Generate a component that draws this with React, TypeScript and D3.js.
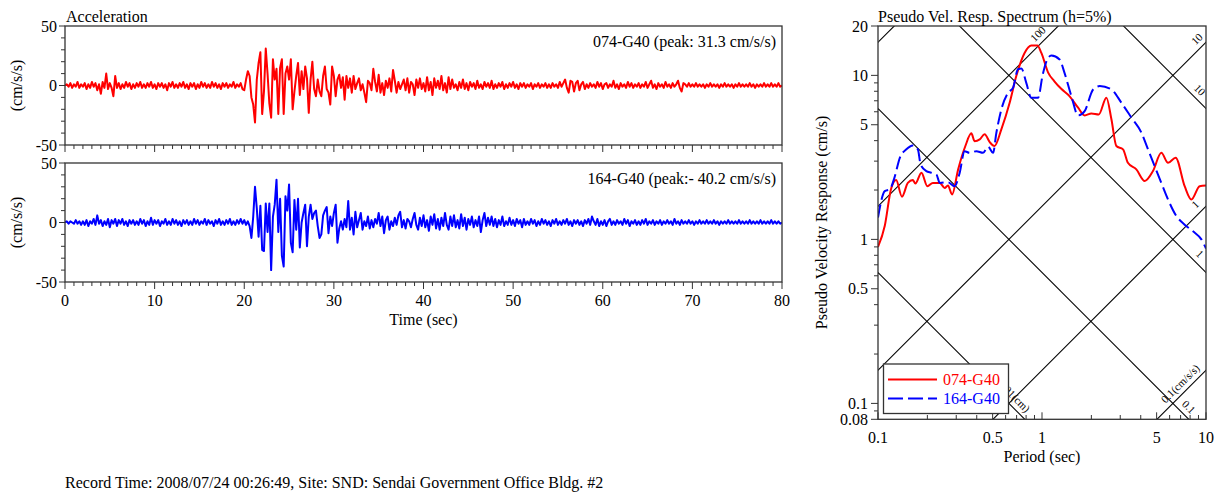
import React from 'react';
import * as d3 from 'd3';

const DT = 0.2;
const ACC_074 = [
  0,1,-1,2,-2,1,-1,3,-2,1,
  -1,2,-3,1,-2,3,-1,2,-4,1,
  -7,3,-2,10,-3,2,-2,-9,8,-2,
  2,-3,1,-2,3,-1,2,-3,1,-2,
  2,-1,3,-2,1,-2,2,-1,3,-2,
  1,-3,2,-1,2,-2,1,-4,2,-1,
  3,-2,1,-2,2,-1,3,-2,1,-3,
  2,-1,2,-3,1,-2,3,-1,2,-2,
  1,-2,3,-1,2,-2,1,-3,2,-1,
  2,-2,1,-1,3,-2,1,-1,2,-3,
  -4,5,12,8,-10,-16,-31,5,19,28,
  -24,-5,31,10,-15,-27,22,5,14,-24,
  15,22,-24,10,16,5,22,-20,-5,8,
  19,-8,12,-3,16,6,-23,5,20,-3,
  -9,5,-5,-9,8,16,-3,-6,-16,16,
  8,-9,5,9,-2,7,-12,8,-2,6,
  -6,8,-3,2,6,-4,1,-6,-14,4,
  2,-4,14,3,-5,9,-6,2,-8,4,
  -2,6,-5,13,4,-6,3,-3,1,5,
  -4,6,-6,3,1,-8,5,-2,6,-3,
  2,-5,7,-4,3,-8,6,-2,4,-3,
  8,-4,2,-6,7,-3,5,-2,1,-4,
  3,-2,5,-3,2,-4,3,-1,2,-3,
  4,-2,1,-3,3,-1,2,-2,4,-3,
  1,-2,2,-1,3,-3,1,-2,2,-1,
  3,-2,1,-3,2,-1,2,-2,1,-1,
  2,-3,1,-1,2,-2,1,-1,2,-2,
  1,-2,2,-1,1,-2,3,-1,2,5,
  -2,-6,4,3,-5,2,4,-4,1,3,
  -3,1,-2,2,-1,1,-2,3,-1,2,
  -3,1,2,-2,1,-1,4,-2,1,-3,
  2,-1,1,-2,3,-1,2,-2,1,-1,
  2,-2,1,-1,3,-2,1,4,-2,1,
  -3,2,-1,1,-2,3,-1,1,-2,2,
  -1,1,4,-2,-5,2,1,-1,2,-1,
  1,-1,2,-1,1,-1,1,-2,1,-1,
  2,-1,1,-1,1,-2,1,-1,2,-1,
  1,-1,1,-2,1,-1,2,-1,1,-1,
  1,-1,2,-1,1,-2,1,-1,1,-1,
  2,-1,1,-1,2,-1,1,-1,2,-1,
  0
];
const ACC_164 = [
  0,1,-1,1,0,-1,2,-1,1,-2,
  1,-2,2,-3,1,-1,3,-2,6,-1,
  2,-3,1,-2,3,-4,2,-1,3,-3,
  2,-1,3,-2,1,-3,2,-1,2,-2,
  1,-2,3,-1,2,-3,1,-2,4,-2,
  2,-1,2,-3,1,-1,3,-2,1,-2,
  3,-1,2,-2,1,-3,2,-1,2,-2,
  1,-2,3,-1,2,-2,1,-1,3,-2,
  2,-1,1,-3,2,-1,3,-2,1,-2,
  2,-1,3,-2,1,-2,2,-1,3,-1,
  2,-2,1,-3,-13,5,30,12,-12,14,
  -23,-24,16,-8,16,-40,5,15,36,-8,
  20,-28,-37,22,10,32,-17,-25,19,-6,
  20,-21,0,8,15,-20,5,15,3,8,
  10,-3,-13,-10,6,10,13,-9,5,-3,
  8,15,-17,-5,1,-6,3,-4,18,-6,
  4,-10,9,-4,2,8,-6,1,-3,5,
  -5,2,-4,3,-1,8,-3,5,-9,2,
  5,-6,1,-3,4,-2,6,9,-4,2,
  -5,3,1,-4,3,8,-2,-6,4,-3,
  6,-4,2,-7,5,-2,7,-5,3,-6,
  4,-3,8,-2,-6,5,-3,6,-4,2,
  -5,7,-3,4,-6,3,-2,5,-4,2,
  -3,5,-8,2,8,-3,4,-2,5,-3,
  3,-4,2,-2,5,-3,1,-2,4,-2,
  2,-3,3,-1,2,-4,3,-2,1,-2,
  3,-1,2,-3,1,-2,3,-1,2,-2,
  1,-3,2,-1,3,-2,1,-2,2,-1,
  3,-2,1,-3,2,-1,2,-2,1,-3,
  2,-1,3,-2,5,1,-2,3,-3,1,
  -2,2,-3,1,3,-2,1,-2,2,-1,
  1,-2,3,-1,2,-3,1,-1,2,-2,
  1,-2,2,-1,3,-2,1,-1,2,-2,
  1,-1,2,-2,1,-1,2,-1,1,-2,
  3,-1,1,-2,2,-1,1,-1,2,-1,
  1,-2,1,-1,2,-1,1,-1,2,-1,
  1,-1,2,-1,1,-2,1,-1,1,-1,
  2,-1,1,-1,1,-1,2,-1,1,-1,
  1,-1,2,-1,1,-1,1,-1,2,-1,
  1,-1,1,-1,2,-1,1,-1,1,-1,
  0
];

const PERIOD_074 = [0.1,0.11,0.12,0.129,0.14,0.152,0.163,0.169,0.184,0.2,0.216,0.238,0.255,0.267,0.283,0.308,0.341,0.371,0.388,0.417,0.447,0.48,0.514,0.565,0.635,0.697,0.783,0.861,0.937,0.991,1.09,1.19,1.31,1.47,1.66,1.82,2.0,2.22,2.47,2.65,2.84,3.12,3.34,3.76,4.23,4.75,5.34,5.87,6.53,7.41,8.14,9.15,10];
const SV_074 = [0.9,1.21,2.02,2.3,1.82,2.21,2.3,2.19,2.55,2.11,2.21,2.21,2.06,2.13,1.88,2.67,3.71,4.43,3.97,4.07,4.37,3.92,3.71,4.69,6.81,9.9,13.7,15.2,15.2,13.7,10.4,9.2,8.28,7.48,6.35,5.7,5.86,5.78,7.31,5.4,3.71,3.54,2.93,2.67,2.27,2.61,3.37,2.93,3.15,2.11,1.75,2.11,2.13];
const PERIOD_164 = [0.1,0.11,0.118,0.126,0.136,0.149,0.163,0.175,0.182,0.197,0.211,0.227,0.238,0.267,0.293,0.315,0.337,0.362,0.398,0.437,0.469,0.503,0.527,0.565,0.621,0.666,0.714,0.749,0.802,0.861,0.946,1.01,1.09,1.14,1.28,1.37,1.51,1.66,1.82,2.05,2.25,2.65,3.05,3.51,4.04,4.43,4.86,5.34,5.87,6.59,7.41,8.33,9.37,10];
const SV_164 = [1.36,1.97,2.02,2.38,3.15,3.54,3.74,3.54,2.86,2.61,2.55,2.49,2.21,2.23,2.11,2.55,3.45,3.37,3.45,3.37,3.67,3.37,4.47,6.2,7.83,8.4,10.9,11.0,9.0,7.3,7.3,10.1,12.8,13.2,12.5,10.4,7.48,5.7,6.06,8.2,8.6,8.2,6.81,5.52,4.47,3.54,2.8,2.21,1.75,1.39,1.23,1.12,1.0,0.88];

const TIME_TICKS = [0,10,20,30,40,50,60,70,80];
const ACC_TICKS = [-50,0,50];
const PERIOD_TICKS = [0.1,0.5,1,5,10];
const PERIOD_MINOR = [0.2,0.3,0.4,0.6,0.7,0.8,0.9,2,3,4,6,7,8,9];
const SV_TICKS = [0.08,0.1,0.5,1,5,10,20];
const SV_MINOR = [0.09,0.2,0.3,0.4,0.6,0.7,0.8,0.9,2,3,4,6,7,8,9];
const SA_LINES = [0.1,1,10,100,1000];
const SD_LINES = [0.01,0.1,1,10];
const SA_LABELS = [
  { value: 100, text: '100', period: 1.03 },
  { value: 10, text: '10', period: 9.6 },
  { value: 1, text: '1', period: 9.4 },
  { value: 0.1, text: '0.1(cm/s/s)', period: 7.6 },
];
const SD_LABELS = [
  { value: 10, text: '10', period: 8.4 },
  { value: 1, text: '1', period: 8.4 },
  { value: 0.1, text: '0.1', period: 7.2 },
  { value: 0.01, text: '0.01(cm)', period: 0.62 },
];

const FONT = '"Liberation Serif", "Times New Roman", serif';
const AX = '#333';

function AccPanel({ data, color, label, y0, y1, showX, clipId }) {
  const x = d3.scaleLinear().domain([0, 80]).range([65, 782]);
  const y = d3.scaleLinear().domain([-50, 50]).range([y1, y0]);
  const line = d3.line<number>().x((_, i) => x(i * DT)).y((d) => y(d));
  const minorX = d3.range(0, 81, 1);
  const minorY = d3.range(-50, 51, 10);
  return (
    <g>
      <clipPath id={clipId}><rect x={65} y={y0} width={717} height={y1 - y0} /></clipPath>
      <path d={line(data) || ''} fill="none" stroke={color} strokeWidth={2} strokeLinejoin="round" clipPath={`url(#${clipId})`} />
      <rect x={65} y={y0} width={717} height={y1 - y0} fill="none" stroke={AX} strokeWidth={1.3} />
      {minorX.map((t) => (
        <line key={'mx' + t} x1={x(t)} x2={x(t)} y1={y1} y2={y1 + (t % 10 === 0 ? 7 : 4)} stroke={AX} strokeWidth={1} />
      ))}
      {minorY.map((v) => (
        <line key={'my' + v} x1={65} x2={65 - (v % 50 === 0 ? 6 : 4)} y1={y(v)} y2={y(v)} stroke={AX} strokeWidth={1} />
      ))}
      {ACC_TICKS.map((v) => (
        <text key={'ty' + v} x={57} y={y(v) + 5.5} textAnchor="end" fontSize={16} fontFamily={FONT}>{v}</text>
      ))}
      {showX && TIME_TICKS.map((t) => (
        <text key={'tx' + t} x={x(t)} y={306} textAnchor="middle" fontSize={16} fontFamily={FONT}>{t}</text>
      ))}
      <text transform={`translate(22,${(y0 + y1) / 2}) rotate(-90)`} textAnchor="middle" fontSize={16} fontFamily={FONT}>(cm/s/s)</text>
      <text x={776} y={y0 + 21} textAnchor="end" fontSize={16} fontFamily={FONT}>{label}</text>
    </g>
  );
}

function Spectrum() {
  const xs = d3.scaleLog().domain([0.1, 10]).range([878, 1206]);
  const ys = d3.scaleLog().domain([0.08, 20]).range([419.3, 26]);
  const mk = (P: number[], S: number[]) =>
    d3.line<number>().x((p) => xs(p)).y((_, i) => ys(S[i])).curve(d3.curveMonotoneX)(P) || '';
  const saSv = (a: number, T: number) => (a * T) / (2 * Math.PI);
  const sdSv = (d: number, T: number) => (2 * Math.PI * d) / T;
  const Tr = [0.05, 20];
  const off = 5 / Math.SQRT2;
  return (
    <g>
      <clipPath id="specClip"><rect x={878} y={26} width={328} height={393.3} /></clipPath>
      <g clipPath="url(#specClip)">
        {SA_LINES.map((a) => (
          <line key={'sa' + a} x1={xs(Tr[0])} y1={ys(saSv(a, Tr[0]))} x2={xs(Tr[1])} y2={ys(saSv(a, Tr[1]))} stroke="#000" strokeWidth={1.1} />
        ))}
        {SD_LINES.map((d) => (
          <line key={'sd' + d} x1={xs(Tr[0])} y1={ys(sdSv(d, Tr[0]))} x2={xs(Tr[1])} y2={ys(sdSv(d, Tr[1]))} stroke="#000" strokeWidth={1.1} />
        ))}
        {SA_LABELS.map((l) => {
          const px = xs(l.period) - off, py = ys(saSv(l.value, l.period)) - off;
          return <text key={'sal' + l.text} transform={`translate(${px},${py}) rotate(-45)`} textAnchor="middle" fontSize={11} fontFamily={FONT}>{l.text}</text>;
        })}
        {SD_LABELS.map((l) => {
          const px = xs(l.period) + off, py = ys(sdSv(l.value, l.period)) - off;
          return <text key={'sdl' + l.text} transform={`translate(${px},${py}) rotate(45)`} textAnchor="middle" fontSize={11} fontFamily={FONT}>{l.text}</text>;
        })}
        <path d={mk(PERIOD_074, SV_074)} fill="none" stroke="#ff0000" strokeWidth={2} />
        <path d={mk(PERIOD_164, SV_164)} fill="none" stroke="#0000ff" strokeWidth={2} strokeDasharray="13,5" />
      </g>
      <rect x={878} y={26} width={328} height={393.3} fill="none" stroke={AX} strokeWidth={1.3} />
      {PERIOD_TICKS.map((p) => (
        <g key={'pt' + p}>
          <line x1={xs(p)} x2={xs(p)} y1={419.3} y2={412.3} stroke={AX} />
          <text x={xs(p)} y={443} textAnchor="middle" fontSize={16} fontFamily={FONT}>{p}</text>
        </g>
      ))}
      {PERIOD_MINOR.map((p) => (
        <line key={'pm' + p} x1={xs(p)} x2={xs(p)} y1={419.3} y2={415} stroke={AX} />
      ))}
      {SV_TICKS.map((v) => (
        <g key={'st' + v}>
          <line x1={878} x2={871} y1={ys(v)} y2={ys(v)} stroke={AX} />
          <text x={868} y={ys(v) + 5.5} textAnchor="end" fontSize={16} fontFamily={FONT}>{v}</text>
        </g>
      ))}
      {SV_MINOR.map((v) => (
        <line key={'sm' + v} x1={878} x2={874} y1={ys(v)} y2={ys(v)} stroke={AX} />
      ))}
      <text x={878} y={22} fontSize={16} fontFamily={FONT}>Pseudo Vel. Resp. Spectrum (h=5%)</text>
      <text transform="translate(827,222.5) rotate(-90)" textAnchor="middle" fontSize={16} fontFamily={FONT}>Pseudo Velocity Response (cm/s)</text>
      <text x={1042} y={462} textAnchor="middle" fontSize={16} fontFamily={FONT}>Period (sec)</text>
      <g>
        <rect x={883.5} y={364} width={125} height={49.5} fill="#fff" stroke={AX} strokeWidth={1.3} />
        <line x1={888} x2={937} y1={379.5} y2={379.5} stroke="#ff0000" strokeWidth={2} />
        <line x1={888} x2={937} y1={398.5} y2={398.5} stroke="#0000ff" strokeWidth={2} strokeDasharray="15,5" />
        <text x={943} y={385} fontSize={16} fontFamily={FONT} fill="#ff0000">074-G40</text>
        <text x={943} y={404} fontSize={16} fontFamily={FONT} fill="#0000ff">164-G40</text>
      </g>
    </g>
  );
}

export default function App() {
  return (
    <svg width={1224} height={492} style={{ position: 'absolute', left: 0, top: 0, background: '#fff' }} fontFamily={FONT}>
      <rect width={1224} height={492} fill="#fff" />
      <text x={66} y={22} fontSize={16} fontFamily={FONT}>Acceleration</text>
      <AccPanel data={ACC_074} color="#ff0000" label="074-G40 (peak: 31.3 cm/s/s)" y0={26} y1={145} showX={false} clipId="c1" />
      <AccPanel data={ACC_164} color="#0000ff" label="164-G40 (peak:- 40.2 cm/s/s)" y0={163} y1={282} showX={true} clipId="c2" />
      <text x={423.5} y={325} textAnchor="middle" fontSize={16} fontFamily={FONT}>Time (sec)</text>
      <Spectrum />
      <text x={65} y={488} fontSize={16} fontFamily={FONT}>Record Time: 2008/07/24 00:26:49, Site: SND: Sendai Government Office Bldg. #2</text>
    </svg>
  );
}
